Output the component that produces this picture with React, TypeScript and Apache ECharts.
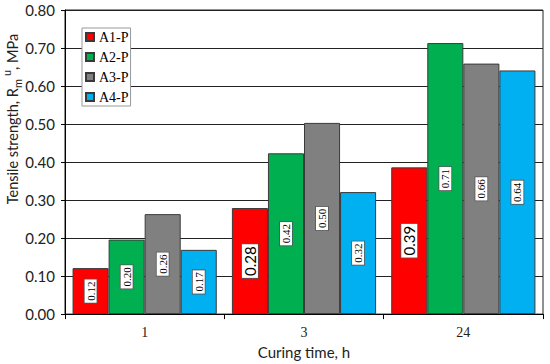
import React, { useEffect, useRef } from "react";
import * as echarts from "echarts";

const categories = ["1", "3", "24"];
const seriesNames = ["A1-P", "A2-P", "A3-P", "A4-P"];
const a1 = [0.121, 0.279, 0.386];
const a2 = [0.196, 0.423, 0.713];
const a3 = [0.263, 0.503, 0.659];
const a4 = [0.169, 0.321, 0.641];
const colors = ["#FF0000", "#00B050", "#808080", "#00B0F0"];
const yTicks = [0, 0.1, 0.2, 0.3, 0.4, 0.5, 0.6, 0.7, 0.8];
const yTitle = "{a|Tensile strength, R}{sub|m}{sup|u}{a|, MPa}";
const xTitle = "Curing time, h";
// indices of points whose value label is drawn in the larger sans font
const bigLabelPoints: Record<string, number[]> = { "A1-P": [1, 2] };

const SANS = "Lato";
const SERIF = "Liberation Serif";

export default function App() {
  const ref = useRef<HTMLDivElement>(null);
  useEffect(() => {
    if (!ref.current) return;
    const chart = echarts.init(ref.current, null, { renderer: "svg" });
    const values = [a1, a2, a3, a4];
    const series = seriesNames.map((name, si) => ({
      name,
      type: "bar",
      barGap: "0%",
      barCategoryGap: "9.5%",
      itemStyle: { color: colors[si], borderColor: "#3a3a3a", borderWidth: 1 },
      label: {
        show: true,
        position: "inside",
        rotate: 90,
        formatter: (p: any) => Number(p.value).toFixed(2),
        fontFamily: SERIF,
        fontSize: 11,
        color: "#000",
        backgroundColor: "#fff",
        borderColor: "#555",
        borderWidth: 0.8,
        padding: [1, 2, 0, 2],
      },
      data: values[si].map((v, i) =>
        (bigLabelPoints[name] || []).includes(i)
          ? {
              value: v,
              label: {
                fontFamily: SANS,
                fontSize: 15,
                padding: [1, 2, 0, 2],
              },
            }
          : v
      ),
    }));
    chart.setOption({
      animation: false,
      grid: {
        left: 65,
        right: 7,
        top: 10,
        bottom: 48,
        show: true,
        borderColor: "#222",
        borderWidth: 1,
      },
      legend: {
        orient: "vertical",
        left: 82,
        top: 28,
        icon: "rect",
        itemWidth: 8,
        itemHeight: 8,
        itemGap: 6,
        padding: [2, 2, 2, 3],
        backgroundColor: "#fff",
        borderColor: "#999",
        borderWidth: 1,
        borderRadius: 0,
        textStyle: {
          fontFamily: SERIF,
          fontSize: 14,
          color: "#000",
        },
        data: seriesNames,
      },
      graphic: [
        {
          type: "text",
          x: 12,
          y: 119,
          rotation: Math.PI / 2,
          style: {
            text: yTitle,
            align: "center",
            verticalAlign: "middle",
            fontFamily: SANS,
            fontSize: 14.5,
            fill: "#222",
            rich: {
              a: { fontFamily: SANS, fontSize: 14.5, fill: "#222", lineHeight: 22 },
              sub: {
                fontFamily: SANS,
                fontSize: 11,
                fill: "#222",
                verticalAlign: "bottom",
                lineHeight: 22,
                padding: [0, 3, 0, 0],
              },
              sup: {
                fontFamily: SANS,
                fontSize: 11,
                fill: "#222",
                verticalAlign: "top",
                lineHeight: 22,
              },
            },
          },
        },
      ],
      xAxis: {
        type: "category",
        data: categories,
        name: xTitle,
        nameLocation: "middle",
        nameGap: 27,
        nameTextStyle: { fontFamily: SANS, fontSize: 15, color: "#222" },
        axisLine: { lineStyle: { color: "#000", width: 1 } },
        axisTick: { show: true, length: 5, lineStyle: { color: "#000" } },
        axisLabel: {
          fontFamily: SERIF,
          fontSize: 14,
          color: "#222",
          margin: 11,
        },
      },
      yAxis: {
        type: "value",
        min: yTicks[0],
        max: yTicks[yTicks.length - 1],
        interval: 0.1,
        axisLine: { show: true, lineStyle: { color: "#000", width: 1 } },
        axisTick: { show: true, length: 4, lineStyle: { color: "#000" } },
        axisLabel: {
          fontFamily: SANS,
          fontSize: 15,
          color: "#222",
          margin: 10,
          formatter: (v: number) => v.toFixed(2),
        },
        splitLine: { show: true, lineStyle: { color: "#222", width: 1 } },
      },
      series,
    });
    return () => chart.dispose();
  }, []);
  return (
    <div
      ref={ref}
      style={{ position: "absolute", left: 0, top: 0, width: 550, height: 364 }}
    />
  );
}
